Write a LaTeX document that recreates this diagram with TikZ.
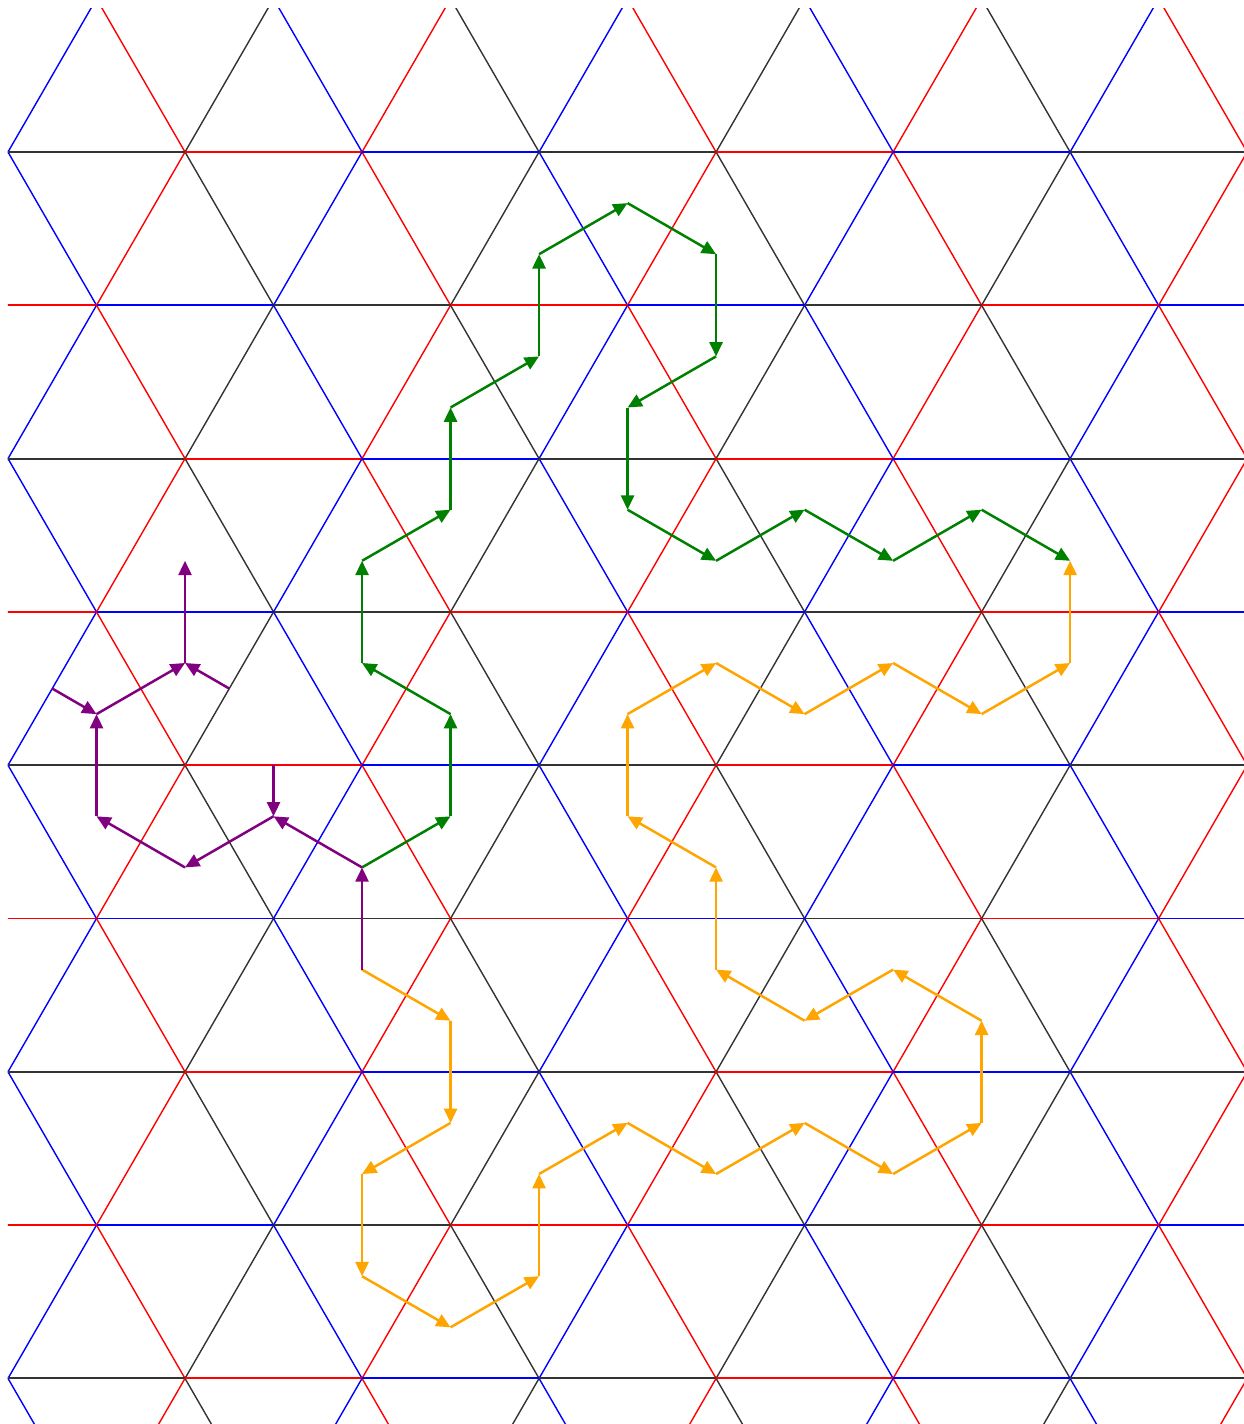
\documentclass[tikz,border=0pt]{standalone}
\usepackage{tikz}
\usetikzlibrary{arrows.meta}
\definecolor{wgreen}{RGB}{0,128,0}
\definecolor{worange}{RGB}{255,165,0}
\definecolor{wpurple}{RGB}{128,0,128}

\begin{document}
\begin{tikzpicture}[
  x=1cm, y=-0.57735cm,
  lat0/.style={draw=black!80,line width=0.45pt},
  lat1/.style={draw=red,line width=0.45pt},
  lat2/.style={draw=blue,line width=0.45pt},
  row/.style={line width=0.6pt},
  walk/.style={line width=0.8pt,-{Triangle[length=4.6pt,width=4.2pt]}},
  gwalk/.style={walk,wgreen},
  owalk/.style={walk,worange},
  pwalk/.style={walk,wpurple},
]
\useasboundingbox (-0.0904,-2.975) rectangle (13.955,24.892);

% ===== triangular lattice, three edge colours =====
\begin{scope}
\clip (0,-2.818) rectangle (14.2,25.2);
\foreach \j in {-1,...,9}{
  \foreach \i in {-6,...,8}{
    \pgfmathtruncatemacro\hcol{mod(\i+2*\j+30,3)}
    \pgfmathtruncatemacro\dcol{mod(\i+2*\j+32,3)}
    \pgfmathtruncatemacro\vx{2*\i+\j}
    \pgfmathtruncatemacro\vy{3*\j}
    \draw[lat\hcol] (\vx,\vy) -- ++(-1,3);
    \draw[lat\dcol] (\vx,\vy) -- ++(1,3);
    \draw[lat\hcol,row] (\vx,\vy) -- ++(2,0);
  }
}
\end{scope}

% ===== orange walk =====
\foreach \x/\y [count=\n] in {4/16,5/17,5/19,4/20,4/22,5/23,6/22,6/20,7/19,8/20,9/19,
    10/20,11/19,11/17,10/16,9/17,8/16,8/14,7/13,7/11,8/10,9/11,10/10,11/11,12/10,12/8}
  \coordinate (o\n) at (\x,\y);
\foreach \n [evaluate=\n as \m using int(\n+1)] in {1,...,25}
  \draw[owalk] (o\n) -- (o\m);

% ===== green walk =====
\foreach \x/\y [count=\n] in {4/14,5/13,5/11,4/10,4/8,5/7,5/5,6/4,6/2,7/1,8/2,8/4,
    7/5,7/7,8/8,9/7,10/8,11/7,12/8}
  \coordinate (g\n) at (\x,\y);
\foreach \n [evaluate=\n as \m using int(\n+1)] in {1,...,18}
  \draw[gwalk] (g\n) -- (g\m);

% ===== purple branches =====
\foreach \x/\y [count=\n] in {4/16,4/14,3/13,3/12,2/14,1/13,1/11,0.5/10.5,2/10,2.5/10.5,2/8}
  \coordinate (p\n) at (\x,\y);
\foreach \a/\b in {1/2,2/3,4/3,3/5,5/6,6/7,8/7,7/9,10/9,9/11}
  \draw[pwalk] (p\a) -- (p\b);
\end{tikzpicture}
\end{document}
